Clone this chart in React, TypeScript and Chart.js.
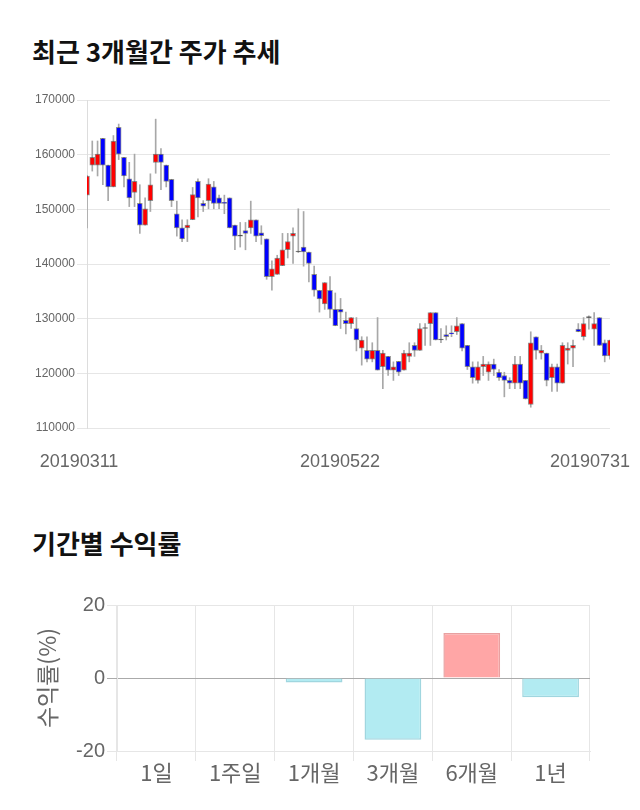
import React, { useEffect, useRef } from 'react';
import { Chart, registerables } from 'chart.js';

Chart.register(...registerables);

// ---------- Stock candle data (2019-03-11 .. 2019-07-31) ----------
const dates = [
  '20190311','20190312','20190313','20190314','20190315','20190318','20190319','20190320','20190321','20190322',
  '20190325','20190326','20190327','20190328','20190329',
  '20190401','20190402','20190403','20190404','20190405','20190408','20190409','20190410','20190411','20190412',
  '20190415','20190416','20190417','20190418','20190419','20190422','20190423','20190424','20190425','20190426',
  '20190429','20190430',
  '20190502','20190503','20190507','20190508','20190509','20190510','20190513','20190514','20190515','20190516',
  '20190517','20190520','20190521','20190522','20190523','20190524','20190527','20190528','20190529','20190530',
  '20190531',
  '20190603','20190604','20190605','20190607','20190610','20190611','20190612','20190613','20190614','20190617',
  '20190618','20190619','20190620','20190621','20190624','20190625','20190626','20190627','20190628',
  '20190701','20190702','20190703','20190704','20190705','20190708','20190709','20190710','20190711','20190712',
  '20190715','20190716','20190717','20190718','20190719','20190722','20190723','20190724','20190725','20190726',
  '20190729','20190730','20190731',
];

const opens = [
  152600,158100,158100,163000,158100,154100,165000,159500,155600,153100,
  151100,147100,151600,158600,160100,158100,155500,149200,146600,146600,
  148100,155100,151100,151600,154100,152100,151200,152100,147100,145100,
  146100,146600,148100,145700,144600,137700,138100,139700,142600,145100,
  142200,143100,142200,138100,135200,132700,135200,131700,131700,129700,
  129100,128200,124600,124200,122600,124200,121200,123100,120600,122200,
  120600,123100,125100,124200,128200,129100,131100,126100,127100,127400,
  127600,129100,125100,121200,118700,121200,120200,121700,120200,119600,
  118700,118200,121700,118700,114300,126700,123700,123700,119200,121200,
  118200,124200,124600,128100,126700,130200,128100,130200,125600,123200,
];
const highs = [
  156200,162500,162500,163000,158100,163500,165600,159500,158600,160100,
  154500,152100,156500,166500,161100,158100,155500,151500,148100,148100,
  154000,155600,151600,155600,155100,152600,152600,152100,147100,147600,
  147600,151500,148100,147000,144600,140600,141600,145600,145600,146600,
  150100,149600,142200,139600,135200,136600,137700,134700,133700,131200,
  130200,130200,126700,126700,125600,130200,124200,123100,122100,122200,
  124200,125600,125600,129100,129100,131100,131100,128200,128700,128700,
  130200,129100,125100,122100,122100,123100,122100,122600,120700,120200,
  119200,123100,123100,118700,127600,126700,125100,123700,121700,121700,
  125600,125600,126100,129100,130200,130500,131100,130200,126100,126100,
];
const lows = [
  146600,157000,156100,154500,151600,154100,159100,154100,150500,150500,
  145600,147100,149600,156600,153600,154100,150500,145100,144100,144100,
  148100,148600,149600,150100,150100,150100,149200,146600,142600,143100,
  142600,145600,144100,143600,137200,135200,138100,139700,141100,140100,
  142100,139600,136700,134100,131200,131700,130200,128700,128200,127200,
  128200,124100,121500,122100,122100,120600,117200,119600,118700,119600,
  120600,122100,123100,124200,125100,125100,126100,125600,126100,126700,
  127100,124100,120700,118200,118200,119600,118700,119600,118700,115700,
  117200,117200,117200,115300,113800,122600,122600,117700,116700,116700,
  118200,121700,121200,127600,126100,128100,125100,125100,122100,122600,
];
const closes = [
  156100,159500,160100,158100,154100,162500,160100,156100,152100,155100,
  147100,150100,154500,160100,158600,155100,151600,146600,144600,147100,
  152700,152100,150600,154600,151100,151100,151100,146600,145100,145100,
  145600,148100,145100,145200,137700,139100,141100,142600,144100,145600,
  142200,142200,140100,135200,133600,136600,131700,128700,131200,129100,
  130200,126100,126100,122600,124200,120600,123700,120600,121200,120200,
  123700,123700,124200,128200,128200,131100,126100,126100,126700,127200,
  128700,124600,121200,119200,121200,121700,121700,120700,119200,118700,
  118200,121700,118200,115300,125600,124200,124200,118700,121200,118200,
  125100,124600,125100,127600,129100,130200,129100,125100,123200,126100,
];
const priceTicks = [110000, 120000, 130000, 140000, 150000, 160000, 170000];
const shownDates = ['20190311', '20190522', '20190731'];

// ---------- Period returns ----------
const periods = ['1일', '1주일', '1개월', '3개월', '6개월', '1년'];
const returnsPct = [0, 0, -1.2, -16.9, 12.3, -5.3];
const returnTicks = [-20, 0, 20];

const KR = '"Noto Sans CJK KR", "Noto Sans", sans-serif';
const SANS = '"Liberation Sans", Arial, sans-serif';

function CandleChart() {
  const ref = useRef<HTMLCanvasElement>(null);
  useEffect(() => {
    if (!ref.current) return;
    const colorOf = (i: number) =>
      closes[i] > opens[i] ? '#ff0000' : closes[i] < opens[i] ? '#0000ff' : '#333333';
    const chart = new Chart(ref.current, {
      type: 'bar',
      data: {
        labels: dates,
        datasets: [
          {
            label: 'body',
            data: opens.map((o, i) => [o, closes[i]]) as any,
            backgroundColor: dates.map((_, i) => colorOf(i)),
            borderColor: 'rgba(60,60,60,0.55)',
            borderWidth: 1,
            borderSkipped: false,
            barThickness: 5,
            minBarLength: 1,
            grouped: false,
          },
          {
            label: 'wick',
            data: lows.map((l, i) => [l, highs[i]]) as any,
            backgroundColor: '#a8a8a8',
            borderWidth: 0,
            barThickness: 1,
            grouped: false,
          },
        ],
      },
      options: {
        responsive: false,
        animation: false,
        layout: { padding: { left: 0, right: 30, top: 20, bottom: 22 } },
        plugins: { legend: { display: false }, tooltip: { enabled: false } },
        scales: {
          x: { type: 'category', offset: false, display: false },
          y: {
            min: 110000,
            max: 170000,
            afterBuildTicks: (s: any) => { s.ticks = priceTicks.map((v) => ({ value: v })); },
            afterFit: (s: any) => { s.width = 87; },
            ticks: {
              font: { size: 12, family: SANS },
              color: '#666',
              padding: 2,
              callback: (v: any) => String(v),
            },
            grid: { color: '#e6e6e6', tickLength: 10 },
            border: { color: '#dddddd' },
          },
        },
      },
    });
    return () => chart.destroy();
  }, []);
  return <canvas ref={ref} width={640} height={370} style={{ position: 'absolute', left: 0, top: 80 }} />;
}

function ReturnChart() {
  const ref = useRef<HTMLCanvasElement>(null);
  useEffect(() => {
    if (!ref.current) return;
    const chart = new Chart(ref.current, {
      type: 'bar',
      data: {
        labels: periods,
        datasets: [
          {
            data: returnsPct,
            backgroundColor: returnsPct.map((v) => (v >= 0 ? '#ffa6a6' : '#b2ebf2')),
            borderColor: returnsPct.map((v) => (v >= 0 ? '#e8a0a0' : '#a0d6df')),
            borderWidth: 1.5,
          },
        ],
      },
      options: {
        responsive: false,
        animation: false,
        layout: { padding: { left: 0, right: 50, top: 25, bottom: 19 } },
        plugins: { legend: { display: false }, tooltip: { enabled: false } },
        scales: {
          x: {
            afterFit: (s: any) => { s.height = 40; },
            ticks: { font: { size: 22, family: KR }, color: '#666', padding: -2 },
            grid: { color: '#e6e6e6', tickLength: 10 },
            border: { color: '#e6e6e6' },
          },
          y: {
            min: -20,
            max: 20,
            afterBuildTicks: (s: any) => { s.ticks = returnTicks.map((v) => ({ value: v })); },
            afterFit: (s: any) => { s.width = 117; },
            ticks: { font: { size: 20, family: SANS }, color: '#666', padding: 2 },
            grid: {
              color: (c: any) => (c.tick && c.tick.value === 0 ? '#aaaaaa' : '#e6e6e6'),
              tickLength: 10,
            },
            border: { color: '#e6e6e6' },
            title: {
              display: true,
              text: '수익률(%)',
              font: { size: 23, family: KR },
              color: '#666',
              padding: { top: 33, bottom: 0 },
            },
          },
        },
      },
    });
    return () => chart.destroy();
  }, []);
  return <canvas ref={ref} width={640} height={230} style={{ position: 'absolute', left: 0, top: 580 }} />;
}

export default function App() {
  const labelCenters = [79, 340, 590];
  return (
    <div style={{ position: 'absolute', left: 0, top: 0, width: 640, height: 810, background: '#fff', overflow: 'hidden' }}>
      <div style={{ position: 'absolute', left: 32, top: 34, fontFamily: KR, fontWeight: 700, fontSize: 26, lineHeight: '34px', color: '#111', whiteSpace: 'nowrap' }}>
        최근 3개월간 주가 추세
      </div>
      <CandleChart />
      {shownDates.map((d, i) => (
        <div key={d} style={{ position: 'absolute', top: 449, left: labelCenters[i] - 60, width: 120, textAlign: 'center', fontFamily: SANS, fontSize: 18, lineHeight: '24px', color: '#666' }}>
          {d}
        </div>
      ))}
      <div style={{ position: 'absolute', left: 32, top: 526, fontFamily: KR, fontWeight: 700, fontSize: 26, lineHeight: '34px', color: '#111', whiteSpace: 'nowrap' }}>
        기간별 수익률
      </div>
      <ReturnChart />
    </div>
  );
}
